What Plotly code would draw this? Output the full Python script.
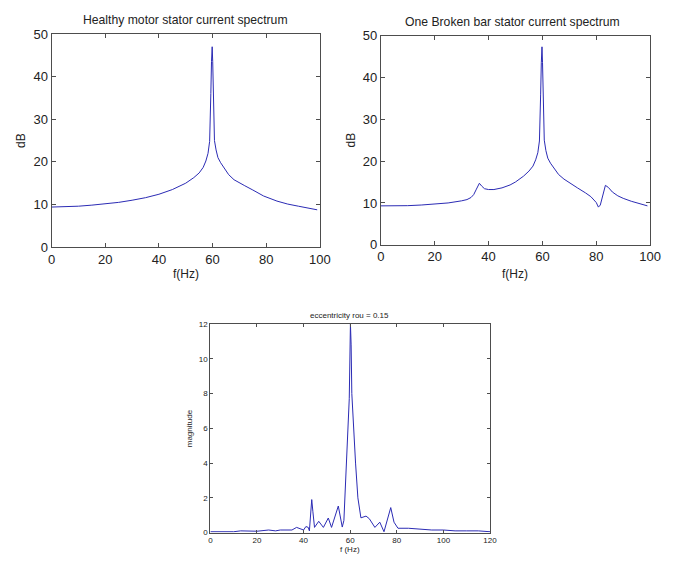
import plotly.graph_objects as go

W, H = 680, 563

# ---------------- data ----------------
healthy_f = [0, 5, 10, 15, 20, 25, 30, 35, 40, 45, 50, 53, 55, 56.5, 57.5, 58.3, 58.9, 59.1, 59.35, 59.6, 59.85,
             60.05, 60.3, 60.5, 60.7, 61.3, 62, 63, 64.3, 66, 68, 70, 72, 75, 79, 84, 88, 92, 96, 99]
healthy_db = [9.4, 9.45, 9.6, 9.85, 10.1, 10.5, 11.0, 11.6, 12.4, 13.5, 15.0, 16.3, 17.4, 18.7, 20.2, 22.0, 24.8,
              28.5, 36.0, 43.5, 47.0, 43.5, 36.0, 28.5, 25.0, 22.8, 21.0, 19.8, 18.6, 17.0, 15.8, 15.0, 14.4, 13.4,
              12.0, 10.8, 10.1, 9.6, 9.1, 8.75]

broken_f = [0, 5, 10, 15, 20, 25, 30, 32, 33.5, 34.5, 35.5, 36.6, 37.5, 38.5, 40, 42, 45, 48, 50, 53, 55, 56.5,
            57.5, 58.3, 58.9, 59.1, 59.35, 59.6, 59.85, 60.05, 60.3, 60.5, 60.7, 61.3, 62, 63, 64.5, 66, 68, 70,
            73, 76, 78, 80, 80.8, 81.5, 82.5, 83.4, 84.5, 86, 88, 90, 93, 96, 99]
broken_db = [9.3, 9.3, 9.35, 9.5, 9.7, 10.0, 10.5, 10.8, 11.3, 12.0, 13.3, 14.7, 14.0, 13.4, 13.2, 13.2, 13.6, 14.3,
             15.0, 16.4, 17.6, 18.8, 20.3, 22.0, 24.8, 28.5, 36.0, 43.5, 47.3, 43.5, 36.0, 28.5, 25.0, 22.5, 20.7,
             19.5, 18.0, 16.8, 15.7, 14.8, 13.6, 12.4, 11.5, 10.1, 9.0, 9.5, 12.0, 14.2, 13.7, 12.6, 11.7, 11.1,
             10.4, 9.8, 9.3]

ecc_f = [0, 10, 13, 20, 25, 28, 30, 35, 37, 39, 40, 41, 42, 42.5, 43.5, 44, 44.7, 46.5, 48.5, 50.6, 52, 54.9,
         56.6, 57.3, 58.3, 59.1, 59.6, 60.1, 60.4, 60.7, 61.2, 62.3, 63.3, 64.6, 66.8, 68.2, 70.6, 72.7, 74.5,
         77.4, 78.8, 80.5, 85, 90, 95, 100, 105, 110, 115, 120]
ecc_mag = [0.05, 0.05, 0.1, 0.08, 0.15, 0.1, 0.15, 0.15, 0.3, 0.2, 0.15, 0.35, 0.3, 0.1, 1.9, 1.2, 0.3, 0.65, 0.3,
           0.84, 0.3, 1.53, 0.32, 0.7, 3.5, 6.2, 7.7, 12.0, 10.8, 8.0, 6.5, 4.0, 2.0, 0.85, 0.95, 0.8, 0.3, 0.6,
           0.05, 1.44, 0.6, 0.25, 0.25, 0.2, 0.15, 0.15, 0.1, 0.1, 0.1, 0.05]

line_color = "#2b2bb4"
axis_color = "#4d4d4d"
font_family = "Liberation Sans, Arial, sans-serif"


def px_x(p):
    return p / W


def px_y(p):
    return 1 - p / H


fig = go.Figure()
fig.add_trace(go.Scatter(x=healthy_f, y=healthy_db, mode="lines", line=dict(color=line_color, width=1),
                         xaxis="x", yaxis="y", showlegend=False))
fig.add_trace(go.Scatter(x=broken_f, y=broken_db, mode="lines", line=dict(color=line_color, width=1),
                         xaxis="x2", yaxis="y2", showlegend=False))
fig.add_trace(go.Scatter(x=ecc_f, y=ecc_mag, mode="lines", line=dict(color=line_color, width=1),
                         xaxis="x3", yaxis="y3", showlegend=False))


def ax(domain, rng, dtick, anchor, size):
    return dict(domain=domain, range=rng, dtick=dtick, tick0=0, anchor=anchor, showgrid=False, zeroline=False,
                showline=True, linecolor=axis_color, linewidth=1, mirror="ticks", ticks="inside",
                ticklen=4 if size > 9 else 3, tickcolor=axis_color,
                tickfont=dict(family=font_family, size=size, color="#222"))


fig.update_layout(
    width=W, height=H, margin=dict(l=0, r=0, t=0, b=0),
    paper_bgcolor="white", plot_bgcolor="white",
    xaxis=ax([px_x(48.7), px_x(323)], [0, 100], 20, "y", 13),
    yaxis=ax([px_y(246.7), px_y(27.7)], [0, 50], 10, "x", 13),
    xaxis2=ax([px_x(385.3), px_x(660.7)], [0, 100], 20, "y2", 13),
    yaxis2=ax([px_y(244.3), px_y(29.3)], [0, 50], 10, "x2", 13),
    xaxis3=ax([px_x(211), px_x(497)], [0, 120], 20, "y3", 8),
    yaxis3=ax([px_y(540), px_y(325.7)], [0, 12], 2, "x3", 8),
)

annos = [
    ("Healthy motor stator current spectrum", 186, 13, 12.2, 0),
    ("One Broken bar stator current spectrum", 520, 15.5, 12.2, 0),
    ("eccentricity rou = 0.15", 353, 316.5, 8, 0),
    ("f(Hz)", 186, 274, 12, 0),
    ("f(Hz)", 523, 274, 12, 0),
    ("f (Hz)", 354, 557, 8, 0),
    ("dB", 18, 137, 12, -90),
    ("dB", 355, 137, 12, -90),
    ("magnitude", 190, 433, 8, -90),
]
for text, x, y, size, ang in annos:
    fig.add_annotation(text=text, x=px_x(x), y=px_y(y), xref="paper", yref="paper", showarrow=False,
                       xanchor="center", yanchor="middle", textangle=ang,
                       font=dict(family=font_family, size=size, color="#222"))

fig.write_html("out.html", config={"displayModeBar": False},
               post_script="document.body.style.margin='0';document.body.style.overflow='hidden';")
